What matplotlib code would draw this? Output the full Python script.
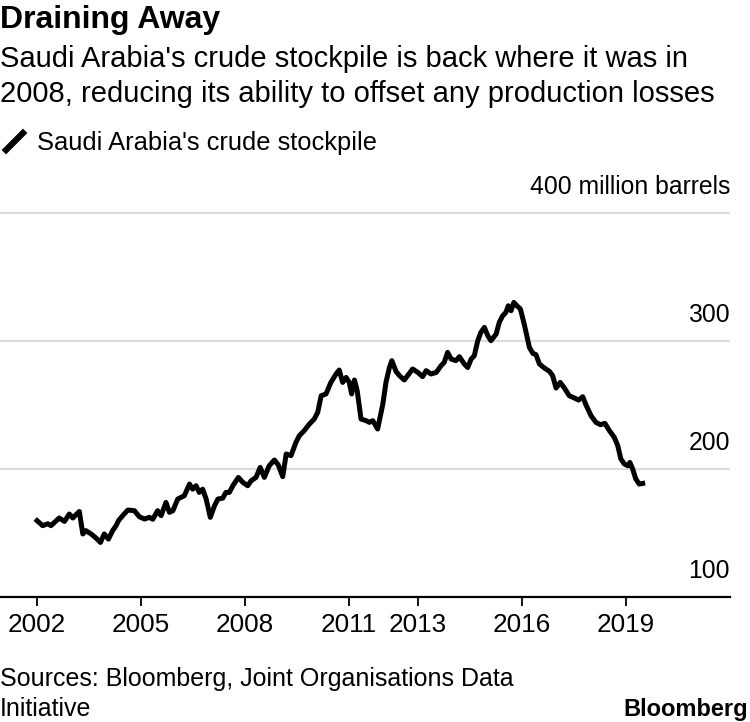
import matplotlib
matplotlib.use('Agg')
import matplotlib.pyplot as plt
from matplotlib.lines import Line2D

plt.rcParams['font.family'] = ['Liberation Sans', 'DejaVu Sans']

# stockpile, million barrels
years = [2002.00, 2002.16, 2002.31, 2002.40, 2002.64, 2002.79, 2002.93, 2003.03, 2003.22, 2003.32,
         2003.41, 2003.56, 2003.70, 2003.83, 2003.94, 2004.06, 2004.18, 2004.28, 2004.35, 2004.47,
         2004.62, 2004.81, 2004.95, 2005.10, 2005.24, 2005.34, 2005.48, 2005.58, 2005.72, 2005.82,
         2005.92, 2006.06, 2006.25, 2006.40, 2006.49, 2006.59, 2006.68, 2006.78, 2006.88, 2007.00,
         2007.12, 2007.22, 2007.36, 2007.45, 2007.55, 2007.65, 2007.81, 2007.94, 2008.08, 2008.18,
         2008.32, 2008.44, 2008.56, 2008.70, 2008.85, 2008.96, 2009.09, 2009.19, 2009.33, 2009.47,
         2009.57, 2009.71, 2009.86, 2010.00, 2010.10, 2010.20, 2010.34, 2010.48, 2010.63, 2010.72,
         2010.82, 2010.92, 2011.01, 2011.08, 2011.16, 2011.24, 2011.35, 2011.50, 2011.59, 2011.69,
         2011.83, 2011.98, 2012.07, 2012.17, 2012.24, 2012.36, 2012.46, 2012.60, 2012.84, 2012.99,
         2013.13, 2013.23, 2013.37, 2013.52, 2013.66, 2013.75, 2013.85, 2013.95, 2014.09, 2014.19,
         2014.33, 2014.43, 2014.53, 2014.62, 2014.72, 2014.81, 2014.91, 2015.01, 2015.10, 2015.25,
         2015.34, 2015.44, 2015.53, 2015.60, 2015.68, 2015.76, 2015.85, 2015.95, 2016.06, 2016.21,
         2016.31, 2016.40, 2016.50, 2016.64, 2016.79, 2016.88, 2016.98, 2017.10, 2017.22, 2017.36,
         2017.51, 2017.63, 2017.75, 2017.84, 2017.99, 2018.13, 2018.26, 2018.39, 2018.52, 2018.66,
         2018.76, 2018.85, 2018.95, 2019.05, 2019.11, 2019.19, 2019.28, 2019.38, 2019.48]
stock = [159.4, 155.5, 157.0, 155.5, 161.5, 158.8, 164.6, 161.5, 166.6, 149.0,
         151.6, 149.0, 145.9, 142.4, 149.0, 145.0, 151.6, 155.5, 159.4, 163.3,
         167.7, 167.2, 162.5, 160.7, 162.0, 160.5, 167.2, 163.3, 173.7, 165.9,
         167.2, 176.3, 178.9, 188.0, 184.0, 186.7, 181.5, 184.0, 176.3, 162.0,
         171.0, 176.3, 177.0, 181.5, 181.5, 186.7, 193.2, 189.3, 186.7, 190.6,
         193.2, 201.0, 193.2, 202.3, 206.8, 203.0, 193.8, 211.5, 210.2, 220.5,
         225.8, 229.7, 234.9, 238.8, 244.0, 257.0, 258.4, 267.4, 274.0, 277.1,
         267.4, 271.3, 267.4, 258.4, 269.3, 260.9, 238.8, 237.5, 236.2, 237.5,
         231.0, 250.5, 267.4, 279.1, 284.4, 276.0, 272.7, 269.3, 277.9, 275.2,
         271.9, 276.6, 274.0, 275.2, 280.5, 283.0, 290.9, 285.7, 284.4, 287.5,
         281.8, 279.1, 285.7, 288.3, 300.0, 306.5, 310.4, 303.9, 300.0, 305.2,
         314.3, 319.5, 322.1, 327.3, 323.4, 329.9, 327.3, 324.8, 313.0, 294.8,
         290.1, 289.1, 281.8, 278.7, 276.0, 272.7, 263.0, 267.4, 263.0, 257.0,
         255.2, 253.6, 256.2, 250.0, 241.4, 236.2, 234.4, 235.4, 229.7, 224.5,
         218.0, 207.6, 203.7, 202.3, 204.9, 199.8, 192.0, 188.0, 188.5]

y_ticks = [100, 200, 300, 400]
y_labels = ['100', '200', '300', '400 million barrels']
x_ticks = [2002, 2005, 2008, 2011, 2013, 2016, 2019]
x_labels = [str(v) for v in x_ticks]

W, H = 750.0, 722.0
fig = plt.figure(figsize=(7.5, 7.22), dpi=100)

# axes: bottom line at 596.7px, 128px per 100 barrels
ax = fig.add_axes([0, 1 - 596.7 / H, 730 / W, (596.7 - 199.9) / H])
ax.set_xlim(2000.93, 2022.0)
ax.set_ylim(100, 410)

ax.plot(years, stock, color='black', linewidth=3.6, solid_joinstyle='round', zorder=3)

for s in ['top', 'right', 'left']:
    ax.spines[s].set_visible(False)
ax.spines['bottom'].set_linewidth(1.6)
ax.spines['bottom'].set_color('black')

ax.set_yticks(y_ticks)
ax.set_yticklabels([])
ax.tick_params(axis='y', length=0)
ax.yaxis.grid(True, color='#dcdcdc', linewidth=1.6)
ax.set_axisbelow(True)

ax.set_xticks(x_ticks)
ax.set_xticklabels(x_labels, fontsize=18.8)
ax.tick_params(axis='x', length=6.5, width=1.3, pad=5.5, color='black')

# y labels sit above their gridline, right aligned
for v, lab in zip(y_ticks, y_labels):
    ax.annotate(lab, xy=(1, v), xycoords=('axes fraction', 'data'),
                xytext=(0, 13.5), textcoords='offset points',
                ha='right', va='baseline', fontsize=17.8)

# titles
fig.text(0, 1 - 28 / H, 'Draining Away', fontsize=23, fontweight='bold', va='baseline')
fig.text(0, 1 - 67 / H, "Saudi Arabia's crude stockpile is back where it was in",
         fontsize=21, va='baseline')
fig.text(0, 1 - 102 / H, '2008, reducing its ability to offset any production losses',
         fontsize=21, va='baseline')

# legend
fig.add_artist(Line2D([6 / W, 23 / W], [1 - 150 / H, 1 - 133 / H], color='black',
                      linewidth=4.5, transform=fig.transFigure))
fig.text(37 / W, 1 - 150 / H, "Saudi Arabia's crude stockpile", fontsize=18.4, va='baseline')

# footer
fig.text(0, 1 - 686 / H, 'Sources: Bloomberg, Joint Organisations Data', fontsize=18, va='baseline')
fig.text(0, 1 - 716 / H, 'Initiative', fontsize=18, va='baseline')
fig.text(748 / W, 1 - 716 / H, 'Bloomberg', fontsize=17, fontweight='bold',
         ha='right', va='baseline')

fig.savefig('out.png', dpi=100)
